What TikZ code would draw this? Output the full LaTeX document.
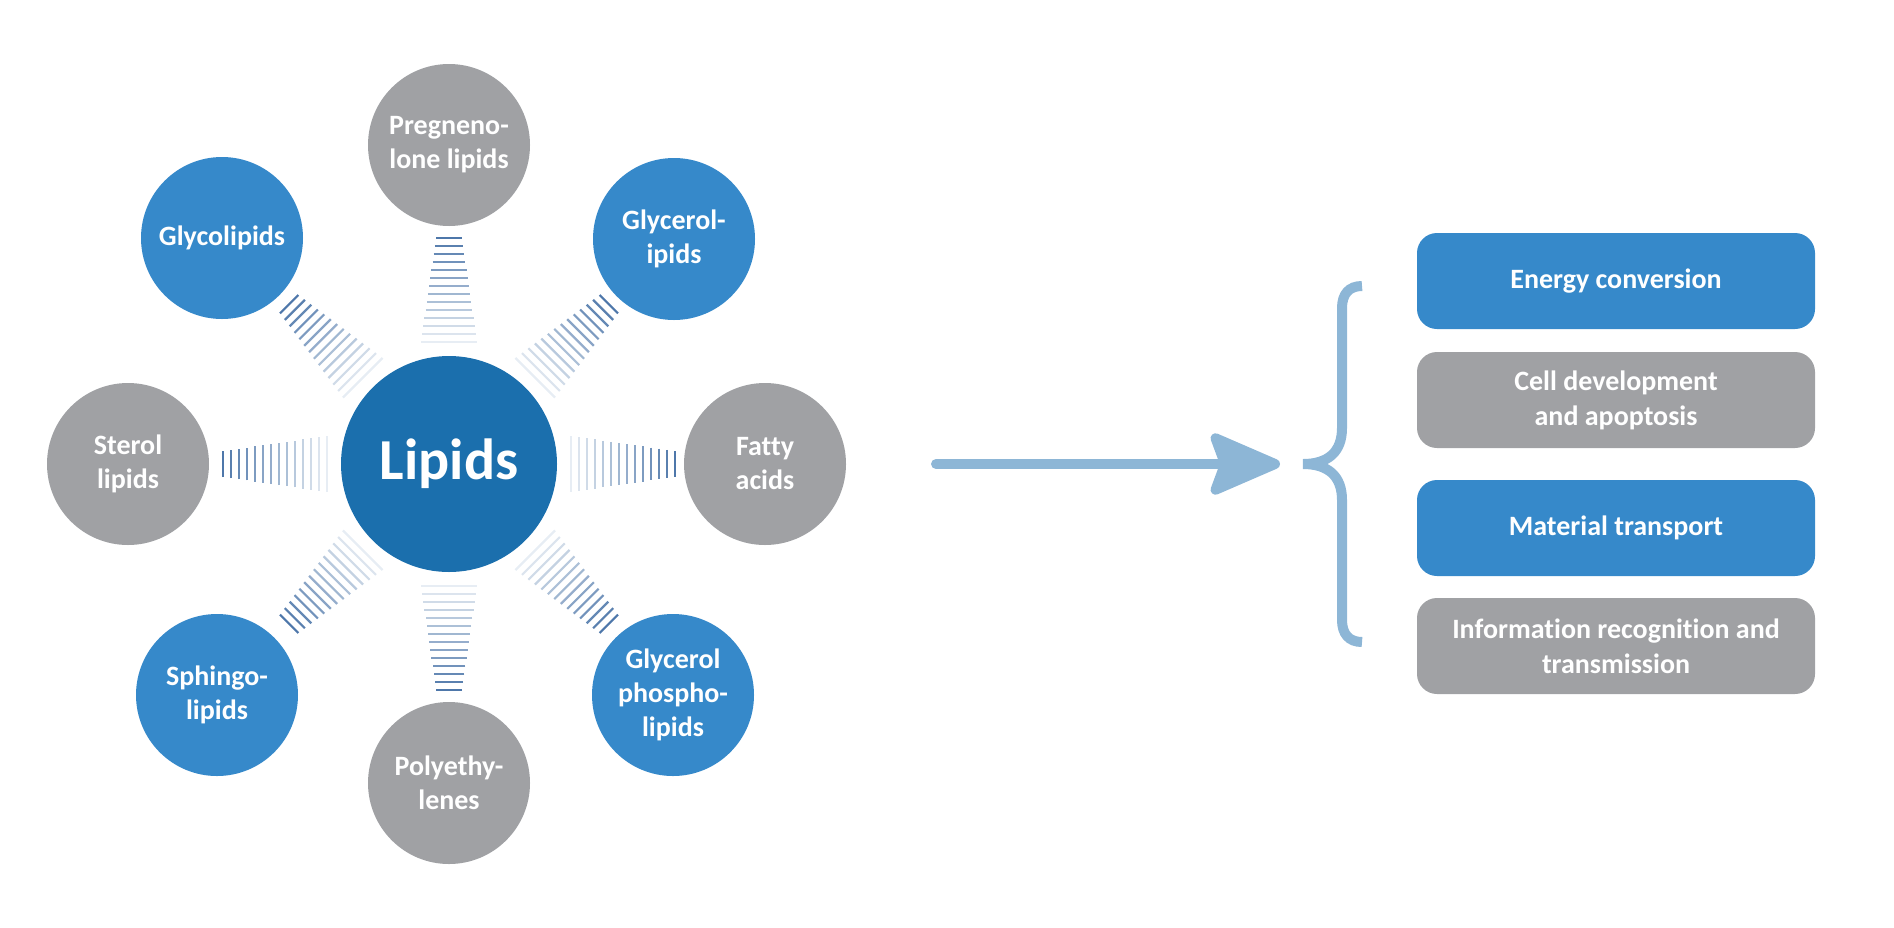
\documentclass[tikz,border=0pt]{standalone}
\usepackage{fontspec}
\setmainfont{Carlito}[Ligatures=NoCommon]
\usetikzlibrary{arrows.meta,calc}
\definecolor{cblue}{RGB}{54,137,202}
\definecolor{cgrey}{RGB}{160,161,164}
\definecolor{cdark}{RGB}{27,111,173}
\definecolor{clight}{RGB}{141,182,214}
\definecolor{hdark}{RGB}{58,104,160}
\tikzset{
  sat/.style={circle, fill=#1, minimum size=162pt, inner sep=0pt},
  stxt/.style={text=white, font=\fontsize{28}{34}\selectfont\bfseries, align=center, inner sep=0pt},
  fbox/.style={rectangle, rounded corners=20pt, fill=#1, minimum width=398pt, minimum height=96pt,
    text=white, font=\fontsize{28}{35}\selectfont\bfseries, align=center, inner sep=0pt},
  hatchline/.style={line width=2.2pt},
  flow/.style={draw=clight, line width=10pt, line cap=round},
  bracestyle/.style={draw=clight, line width=10pt, line cap=butt},
}
\begin{document}
\begin{tikzpicture}[x=1pt,y=-1pt]
\useasboundingbox (0,0) rectangle (1894,927);
% centre
\node[circle, fill=cdark, minimum size=216pt, inner sep=0pt, text=white,
  font=\fontsize{58}{60}\selectfont\bfseries] (lip) at (449,464) {Lipids};
% satellites
\node[sat=cgrey, label={[stxt]center:{Pregneno-\\lone lipids}}] (preg) at (449,145) {};
\node[sat=cblue, label={[stxt]center:{Glycolipids}}] (glyco) at (222,238) {};
\node[sat=cblue, label={[stxt]center:{Glycerol-\\ipids}}] (glycer) at (674,239) {};
\node[sat=cgrey, label={[stxt]center:{Sterol\\lipids}}] (sterol) at (128,464) {};
\node[sat=cgrey, label={[stxt]center:{Fatty\\acids}}] (fatty) at (765,464) {};
\node[sat=cblue, label={[stxt]center:{Sphingo-\\lipids}}] (sphingo) at (217,695) {};
\node[sat=cblue, label={[stxt]center:{Glycerol\\phospho-\\lipids}}] (gphos) at (673,695) {};
\node[sat=cgrey, label={[stxt]center:{Polyethy-\\lenes}}] (poly) at (449,783) {};
% hatched connectors
\foreach \ang in {0,45,...,315}{
  \begin{scope}[shift={(lip.center)}, rotate=-\ang]
    \foreach \i in {0,...,13}{
      \pgfmathsetmacro{\d}{122+8*\i}
      \pgfmathsetmacro{\h}{28-\i*15/13}
      \pgfmathtruncatemacro{\p}{12+\i*78/13}
      \draw[hatchline, draw=hdark!\p!white] (\d,-\h) -- (\d,\h);
    }
  \end{scope}
}
% arrow
\coordinate (astart) at (936,464);
\coordinate (aend) at (1280,464);
\draw[flow, -{Stealth[length=80pt, width=68pt, inset=12pt, round]}] (astart) -- (aend);
% brace
\coordinate (btop) at (1362,286);
\coordinate (bmid) at (1303,464);
\coordinate (bbot) at (1362,642);
\draw[bracestyle] (btop) .. controls (1349,286) and (1342,294) .. (1342,308)
  -- (1342,428) .. controls (1342,452) and (1328,464) .. (bmid)
  .. controls (1328,464) and (1342,476) .. (1342,500)
  -- (1342,620) .. controls (1342,634) and (1349,642) .. (bbot);
% function boxes
\node[fbox=cblue] (energy) at (1616,281) {Energy conversion};
\node[fbox=cgrey] (cell) at (1616,400) {Cell development\\and apoptosis};
\node[fbox=cblue] (mat) at (1616,528) {Material transport};
\node[fbox=cgrey] (info) at (1616,646) {Information recognition and\\transmission};
\end{tikzpicture}
\end{document}
